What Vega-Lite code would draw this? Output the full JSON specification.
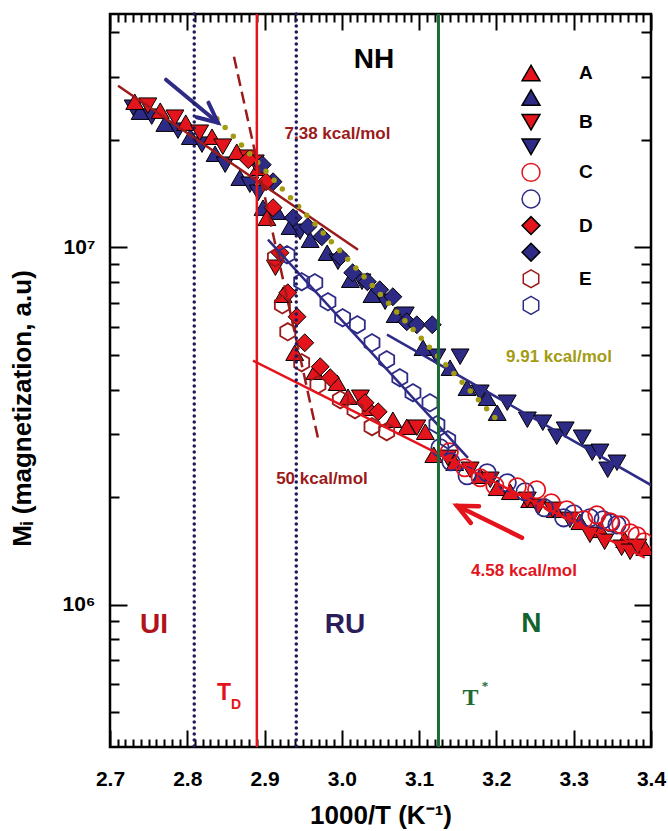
{
  "$schema": "https://vega.github.io/schema/vega-lite/v6.json",
  "width": 541,
  "height": 733,
  "autosize": {"type": "none"},
  "padding": {"left": 110, "top": 14, "right": 17, "bottom": 84},
  "background": "white",
  "config": {
    "view": {"stroke": "#000", "strokeWidth": 2.5},
    "axis": {"grid": false, "domain": false, "tickColor": "#000", "tickWidth": 2, "labelFont": "Liberation Sans", "labelFontWeight": "bold", "labelFontSize": 21, "labelColor": "#000", "titleFont": "Liberation Sans", "titleFontWeight": "bold", "titleFontSize": 26, "titleColor": "#000", "labelOverlap": false, "labelFlush": false},
    "legend": {"orient": "none", "legendX": 411, "legendY": 49, "title": null, "padding": 0, "labelFont": "Liberation Sans", "labelFontWeight": "bold", "labelFontSize": 19, "labelColor": "#000", "labelOffset": 38, "rowPadding": 2.6, "symbolSize": 320, "symbolStrokeWidth": 1.5},
    "text": {"font": "Liberation Sans", "fontWeight": "bold"}
  },
  "resolve": {"axis": {"x": "independent", "y": "independent"}},
  "datasets": {
    "pts": [
      {"s": "A-blue", "x": 2.739, "y": 2.398e7}, {"s": "A-blue", "x": 2.771, "y": 2.220e7}, {"s": "A-blue", "x": 2.804, "y": 2.041e7}, {"s": "A-blue", "x": 2.836, "y": 1.829e7}, {"s": "A-blue", "x": 2.868, "y": 1.567e7}, {"s": "A-blue", "x": 2.898, "y": 1.292e7}, {"s": "A-blue", "x": 2.916, "y": 1.259e7}, {"s": "A-blue", "x": 2.933, "y": 1.143e7}, {"s": "A-blue", "x": 2.959, "y": 1.051e7}, {"s": "A-blue", "x": 2.981, "y": 9.664e6}, {"s": "A-blue", "x": 3.011, "y": 8.121e6}, {"s": "A-blue", "x": 3.039, "y": 7.372e6}, {"s": "A-blue", "x": 3.069, "y": 6.481e6}, {"s": "A-blue", "x": 3.105, "y": 5.240e6}, {"s": "A-blue", "x": 3.140, "y": 4.607e6}, {"s": "A-blue", "x": 3.162, "y": 4.049e6}, {"s": "A-blue", "x": 3.188, "y": 3.796e6}, {"s": "A-blue", "x": 3.201, "y": 3.447e6},
      {"s": "B-blue", "x": 2.730, "y": 2.460e7}, {"s": "B-blue", "x": 2.754, "y": 2.322e7}, {"s": "B-blue", "x": 2.788, "y": 2.122e7}, {"s": "B-blue", "x": 2.819, "y": 1.939e7}, {"s": "B-blue", "x": 2.849, "y": 1.704e7}, {"s": "B-blue", "x": 2.881, "y": 1.498e7}, {"s": "B-blue", "x": 2.892, "y": 1.422e7}, {"s": "B-blue", "x": 2.946, "y": 1.106e7}, {"s": "B-blue", "x": 2.995, "y": 9.120e6}, {"s": "B-blue", "x": 3.026, "y": 8.017e6}, {"s": "B-blue", "x": 3.056, "y": 7.047e6}, {"s": "B-blue", "x": 3.082, "y": 6.481e6}, {"s": "B-blue", "x": 3.123, "y": 4.945e6}, {"s": "B-blue", "x": 3.153, "y": 4.945e6}, {"s": "B-blue", "x": 3.179, "y": 3.921e6}, {"s": "B-blue", "x": 3.214, "y": 3.676e6}, {"s": "B-blue", "x": 3.240, "y": 3.295e6}, {"s": "B-blue", "x": 3.260, "y": 3.232e6}, {"s": "B-blue", "x": 3.278, "y": 2.953e6}, {"s": "B-blue", "x": 3.289, "y": 3.090e6}, {"s": "B-blue", "x": 3.311, "y": 2.934e6}, {"s": "B-blue", "x": 3.324, "y": 2.663e6}, {"s": "B-blue", "x": 3.334, "y": 2.680e6}, {"s": "B-blue", "x": 3.344, "y": 2.387e6}, {"s": "B-blue", "x": 3.356, "y": 2.497e6},
      {"s": "A-red", "x": 2.732, "y": 2.557e7}, {"s": "A-red", "x": 2.765, "y": 2.414e7}, {"s": "A-red", "x": 2.798, "y": 2.234e7}, {"s": "A-red", "x": 2.832, "y": 2.041e7}, {"s": "A-red", "x": 2.864, "y": 1.853e7}, {"s": "A-red", "x": 2.892, "y": 1.671e7}, {"s": "A-red", "x": 2.903, "y": 1.211e7}, {"s": "A-red", "x": 2.924, "y": 7.372e6}, {"s": "A-red", "x": 2.939, "y": 5.074e6}, {"s": "A-red", "x": 2.965, "y": 4.490e6}, {"s": "A-red", "x": 2.994, "y": 4.182e6}, {"s": "A-red", "x": 3.008, "y": 3.821e6}, {"s": "A-red", "x": 3.036, "y": 3.559e6}, {"s": "A-red", "x": 3.066, "y": 3.295e6}, {"s": "A-red", "x": 3.084, "y": 3.150e6}, {"s": "A-red", "x": 3.108, "y": 3.050e6}, {"s": "A-red", "x": 3.119, "y": 2.629e6}, {"s": "A-red", "x": 3.146, "y": 2.497e6}, {"s": "A-red", "x": 3.179, "y": 2.297e6}, {"s": "A-red", "x": 3.201, "y": 2.125e6}, {"s": "A-red", "x": 3.218, "y": 2.071e6}, {"s": "A-red", "x": 3.243, "y": 1.967e6}, {"s": "A-red", "x": 3.276, "y": 1.844e6}, {"s": "A-red", "x": 3.308, "y": 1.707e6}, {"s": "A-red", "x": 3.334, "y": 1.621e6}, {"s": "A-red", "x": 3.366, "y": 1.520e6}, {"s": "A-red", "x": 3.392, "y": 1.444e6},
      {"s": "B-red", "x": 2.749, "y": 2.493e7}, {"s": "B-red", "x": 2.784, "y": 2.307e7}, {"s": "B-red", "x": 2.816, "y": 2.094e7}, {"s": "B-red", "x": 2.846, "y": 1.914e7}, {"s": "B-red", "x": 2.879, "y": 1.783e7}, {"s": "B-red", "x": 2.888, "y": 1.726e7}, {"s": "B-red", "x": 2.914, "y": 8.774e6}, {"s": "B-red", "x": 3.024, "y": 3.796e6}, {"s": "B-red", "x": 3.097, "y": 3.130e6}, {"s": "B-red", "x": 3.137, "y": 2.578e6}, {"s": "B-red", "x": 3.166, "y": 2.387e6}, {"s": "B-red", "x": 3.192, "y": 2.238e6}, {"s": "B-red", "x": 3.240, "y": 1.967e6}, {"s": "B-red", "x": 3.254, "y": 1.880e6}, {"s": "B-red", "x": 3.273, "y": 1.844e6}, {"s": "B-red", "x": 3.295, "y": 1.729e6}, {"s": "B-red", "x": 3.321, "y": 1.570e6}, {"s": "B-red", "x": 3.340, "y": 1.501e6}, {"s": "B-red", "x": 3.362, "y": 1.444e6}, {"s": "B-red", "x": 3.373, "y": 1.407e6}, {"s": "B-red", "x": 3.383, "y": 1.453e6},
      {"s": "D-blue", "x": 2.897, "y": 1.704e7}, {"s": "D-blue", "x": 2.911, "y": 1.527e7}, {"s": "D-blue", "x": 2.937, "y": 1.211e7}, {"s": "D-blue", "x": 2.956, "y": 1.143e7}, {"s": "D-blue", "x": 2.974, "y": 1.071e7}, {"s": "D-blue", "x": 2.998, "y": 9.418e6}, {"s": "D-blue", "x": 3.014, "y": 8.495e6}, {"s": "D-blue", "x": 3.033, "y": 8.017e6}, {"s": "D-blue", "x": 3.049, "y": 7.614e6}, {"s": "D-blue", "x": 3.066, "y": 7.278e6}, {"s": "D-blue", "x": 3.084, "y": 6.195e6}, {"s": "D-blue", "x": 3.097, "y": 6.077e6}, {"s": "D-blue", "x": 3.117, "y": 6.077e6},
      {"s": "D-red", "x": 2.879, "y": 1.760e7}, {"s": "D-red", "x": 2.902, "y": 1.527e7}, {"s": "D-red", "x": 2.911, "y": 1.292e7}, {"s": "D-red", "x": 2.920, "y": 9.664e6}, {"s": "D-red", "x": 2.930, "y": 7.468e6}, {"s": "D-red", "x": 2.942, "y": 6.398e6}, {"s": "D-red", "x": 2.952, "y": 5.411e6}, {"s": "D-red", "x": 2.972, "y": 4.637e6}, {"s": "D-red", "x": 2.985, "y": 4.319e6}, {"s": "D-red", "x": 3.030, "y": 3.676e6}, {"s": "D-red", "x": 3.047, "y": 3.469e6},
      {"s": "C-blue", "x": 3.127, "y": 2.750e6}, {"s": "C-blue", "x": 3.141, "y": 2.513e6}, {"s": "C-blue", "x": 3.162, "y": 2.297e6}, {"s": "C-blue", "x": 3.188, "y": 2.341e6}, {"s": "C-blue", "x": 3.214, "y": 2.195e6}, {"s": "C-blue", "x": 3.237, "y": 2.071e6}, {"s": "C-blue", "x": 3.262, "y": 1.868e6}, {"s": "C-blue", "x": 3.287, "y": 1.751e6}, {"s": "C-blue", "x": 3.300, "y": 1.797e6}, {"s": "C-blue", "x": 3.321, "y": 1.751e6}, {"s": "C-blue", "x": 3.338, "y": 1.729e6}, {"s": "C-blue", "x": 3.348, "y": 1.696e6}, {"s": "C-blue", "x": 3.356, "y": 1.674e6},
      {"s": "C-red", "x": 3.139, "y": 2.680e6}, {"s": "C-red", "x": 3.159, "y": 2.418e6}, {"s": "C-red", "x": 3.179, "y": 2.267e6}, {"s": "C-red", "x": 3.198, "y": 2.153e6}, {"s": "C-red", "x": 3.227, "y": 2.139e6}, {"s": "C-red", "x": 3.252, "y": 2.098e6}, {"s": "C-red", "x": 3.271, "y": 1.929e6}, {"s": "C-red", "x": 3.291, "y": 1.844e6}, {"s": "C-red", "x": 3.313, "y": 1.729e6}, {"s": "C-red", "x": 3.330, "y": 1.785e6}, {"s": "C-red", "x": 3.347, "y": 1.707e6}, {"s": "C-red", "x": 3.361, "y": 1.674e6}, {"s": "C-red", "x": 3.373, "y": 1.590e6}, {"s": "C-red", "x": 3.382, "y": 1.560e6}, {"s": "C-red", "x": 3.391, "y": 1.501e6},
      {"s": "E-blue", "x": 2.929, "y": 9.541e6}, {"s": "E-blue", "x": 2.948, "y": 8.017e6}, {"s": "E-blue", "x": 2.965, "y": 7.966e6}, {"s": "E-blue", "x": 2.982, "y": 7.047e6}, {"s": "E-blue", "x": 3.001, "y": 6.357e6}, {"s": "E-blue", "x": 3.020, "y": 6.077e6}, {"s": "E-blue", "x": 3.039, "y": 5.411e6}, {"s": "E-blue", "x": 3.058, "y": 4.850e6}, {"s": "E-blue", "x": 3.075, "y": 4.319e6}, {"s": "E-blue", "x": 3.092, "y": 3.921e6}, {"s": "E-blue", "x": 3.114, "y": 3.676e6}, {"s": "E-blue", "x": 3.123, "y": 3.191e6}, {"s": "E-blue", "x": 3.137, "y": 2.896e6},
      {"s": "E-red", "x": 2.914, "y": 9.358e6}, {"s": "E-red", "x": 2.923, "y": 6.912e6}, {"s": "E-red", "x": 2.930, "y": 5.808e6}, {"s": "E-red", "x": 2.948, "y": 4.758e6}, {"s": "E-red", "x": 2.969, "y": 4.128e6}, {"s": "E-red", "x": 2.998, "y": 3.748e6}, {"s": "E-red", "x": 3.017, "y": 3.514e6}, {"s": "E-red", "x": 3.039, "y": 3.150e6}, {"s": "E-red", "x": 3.058, "y": 3.050e6}
    ],
    "lines": [
      {"g": "f738", "i": 0, "x": 2.7104, "y": 2.835e7}, {"g": "f738", "i": 1, "x": 3.0209, "y": 9.85e6},
      {"g": "f50", "i": 0, "x": 2.8604, "y": 3.418e7}, {"g": "f50", "i": 1, "x": 2.9704, "y": 2.841e6},
      {"g": "f458", "i": 0, "x": 2.885, "y": 4.82e6}, {"g": "f458", "i": 1, "x": 3.392, "y": 1.354e6},
      {"g": "fnavy1", "i": 0, "x": 3.0584, "y": 5.70e6}, {"g": "fnavy1", "i": 1, "x": 3.4, "y": 2.163e6},
      {"g": "fnavy2", "i": 0, "x": 2.9044, "y": 1.051e7}, {"g": "fnavy2", "i": 1, "x": 3.1632, "y": 2.578e6},
      {"g": "f991", "i": 0, "x": 2.8384, "y": 2.293e7}, {"g": "f991", "i": 1, "x": 3.2007, "y": 3.294e6},
      {"g": "arrN", "i": 0, "x": 2.7725, "y": 2.947e7}, {"g": "arrN", "i": 1, "x": 2.8397, "y": 2.234e7},
      {"g": "arrNh", "i": 0, "x": 2.8274, "y": 2.541e7}, {"g": "arrNh", "i": 1, "x": 2.8397, "y": 2.234e7}, {"g": "arrNh", "i": 2, "x": 2.8122, "y": 2.314e7},
      {"g": "arrR", "i": 0, "x": 3.2331, "y": 1.540e6}, {"g": "arrR", "i": 1, "x": 3.149, "y": 1.893e6},
      {"g": "arrRh", "i": 0, "x": 3.1668, "y": 1.694e6}, {"g": "arrRh", "i": 1, "x": 3.149, "y": 1.893e6}, {"g": "arrRh", "i": 2, "x": 3.1774, "y": 1.888e6}
    ],
    "vlines": [
      {"g": "navy", "x": 2.809}, {"g": "navy", "x": 2.941}, {"g": "red", "x": 2.890}, {"g": "green", "x": 3.125}
    ],
    "labels": [
      {"k": "e_dr", "t": "7.38 kcal/mol", "x": 2.9943, "y": 2.080e7},
      {"k": "e_dr", "t": "50 kcal/mol", "x": 2.9743, "y": 2.253e6},
      {"k": "e_ol", "t": "9.91 kcal/mol", "x": 3.2809, "y": 4.945e6},
      {"k": "e_r", "t": "4.58 kcal/mol", "x": 3.2357, "y": 1.245e6},
      {"k": "r_black", "t": "NH", "x": 3.0416, "y": 3.341e7},
      {"k": "r_dr", "t": "UI", "x": 2.7569, "y": 8.79e5},
      {"k": "r_navy", "t": "RU", "x": 3.004, "y": 8.79e5},
      {"k": "r_green", "t": "N", "x": 3.2453, "y": 8.85e5},
      {"k": "td", "t": "T", "x": 2.8475, "y": 5.653e5},
      {"k": "tdsub", "t": "D", "x": 2.863, "y": 5.25e5},
      {"k": "tstar", "t": "T", "x": 3.1664, "y": 5.473e5},
      {"k": "star", "t": "*", "x": 3.1852, "y": 5.93e5}
    ]
  },
  "layer": [
    {
      "data": {"name": "pts"},
      "transform": [{"filter": {"field": "s", "oneOf": ["A-red", "A-blue", "B-red", "B-blue", "D-red", "D-blue"]}}],
      "mark": {"type": "point", "size": 320, "strokeWidth": 1, "opacity": 1, "clip": true},
      "encoding": {
        "x": {"field": "x", "type": "quantitative", "scale": {"domain": [2.7, 3.4], "nice": false, "zero": false}, "axis": null},
        "y": {"field": "y", "type": "quantitative", "scale": {"type": "log", "domain": [400000, 45000000], "nice": false}, "axis": null},
        "shape": {"field": "s", "type": "nominal", "sort": null,
          "scale": {"domain": ["A-red","A-blue","B-red","B-blue","C-red","C-blue","D-red","D-blue","E-red","E-blue"], "range": ["triangle-up","triangle-up","triangle-down","triangle-down","circle","circle","diamond","diamond","M0,-1L0.866,-0.5L0.866,0.5L0,1L-0.866,0.5L-0.866,-0.5Z","M0,-1L0.866,-0.5L0.866,0.5L0,1L-0.866,0.5L-0.866,-0.5Z"]},
          "legend": {"labelExpr": "datum.label == 'A-red' ? 'A' : datum.label == 'B-red' ? 'B' : datum.label == 'C-red' ? 'C' : datum.label == 'D-red' ? 'D' : datum.label == 'E-red' ? 'E' : ''"}},
        "fill": {"field": "s", "type": "nominal", "sort": null,
          "scale": {"domain": ["A-red","A-blue","B-red","B-blue","C-red","C-blue","D-red","D-blue","E-red","E-blue"], "range": ["#e3141b","#2e2b86","#e3141b","#2e2b86","transparent","transparent","#e3141b","#2e2b86","transparent","transparent"]},
          "legend": {"labelExpr": "datum.label == 'A-red' ? 'A' : datum.label == 'B-red' ? 'B' : datum.label == 'C-red' ? 'C' : datum.label == 'D-red' ? 'D' : datum.label == 'E-red' ? 'E' : ''"}},
        "stroke": {"field": "s", "type": "nominal", "sort": null,
          "scale": {"domain": ["A-red","A-blue","B-red","B-blue","C-red","C-blue","D-red","D-blue","E-red","E-blue"], "range": ["#000","#000","#000","#000","#e3141b","#2e2b86","#000","#000","#9c1a1a","#2e2b86"]},
          "legend": {"labelExpr": "datum.label == 'A-red' ? 'A' : datum.label == 'B-red' ? 'B' : datum.label == 'C-red' ? 'C' : datum.label == 'D-red' ? 'D' : datum.label == 'E-red' ? 'E' : ''"}}
      }
    },
    {
      "data": {"name": "pts"},
      "transform": [{"filter": {"field": "s", "oneOf": ["C-red", "C-blue", "E-red", "E-blue"]}}],
      "mark": {"type": "point", "size": 300, "strokeWidth": 1.8, "opacity": 1, "clip": true},
      "encoding": {
        "x": {"field": "x", "type": "quantitative", "scale": {"domain": [2.7, 3.4], "nice": false, "zero": false}, "axis": null},
        "y": {"field": "y", "type": "quantitative", "scale": {"type": "log", "domain": [400000, 45000000], "nice": false}, "axis": null},
        "shape": {"field": "s", "type": "nominal", "sort": null,
          "scale": {"domain": ["A-red","A-blue","B-red","B-blue","C-red","C-blue","D-red","D-blue","E-red","E-blue"], "range": ["triangle-up","triangle-up","triangle-down","triangle-down","circle","circle","diamond","diamond","M0,-1L0.866,-0.5L0.866,0.5L0,1L-0.866,0.5L-0.866,-0.5Z","M0,-1L0.866,-0.5L0.866,0.5L0,1L-0.866,0.5L-0.866,-0.5Z"]},
          "legend": {"labelExpr": "datum.label == 'A-red' ? 'A' : datum.label == 'B-red' ? 'B' : datum.label == 'C-red' ? 'C' : datum.label == 'D-red' ? 'D' : datum.label == 'E-red' ? 'E' : ''"}},
        "fill": {"field": "s", "type": "nominal", "sort": null,
          "scale": {"domain": ["A-red","A-blue","B-red","B-blue","C-red","C-blue","D-red","D-blue","E-red","E-blue"], "range": ["#e3141b","#2e2b86","#e3141b","#2e2b86","transparent","transparent","#e3141b","#2e2b86","transparent","transparent"]},
          "legend": {"labelExpr": "datum.label == 'A-red' ? 'A' : datum.label == 'B-red' ? 'B' : datum.label == 'C-red' ? 'C' : datum.label == 'D-red' ? 'D' : datum.label == 'E-red' ? 'E' : ''"}},
        "stroke": {"field": "s", "type": "nominal", "sort": null,
          "scale": {"domain": ["A-red","A-blue","B-red","B-blue","C-red","C-blue","D-red","D-blue","E-red","E-blue"], "range": ["#000","#000","#000","#000","#e3141b","#2e2b86","#000","#000","#9c1a1a","#2e2b86"]},
          "legend": {"labelExpr": "datum.label == 'A-red' ? 'A' : datum.label == 'B-red' ? 'B' : datum.label == 'C-red' ? 'C' : datum.label == 'D-red' ? 'D' : datum.label == 'E-red' ? 'E' : ''"}}
      }
    },
    {
      "data": {"name": "lines"},
      "transform": [{"filter": "datum.g == 'f738'"}],
      "mark": {"type": "line", "color": "#9c1a1a", "strokeWidth": 2.5, "clip": true},
      "encoding": {
        "x": {"field": "x", "type": "quantitative", "scale": {"domain": [2.7, 3.4], "nice": false, "zero": false},
          "axis": {"orient": "top", "values": [2.7, 2.8, 2.9, 3.0, 3.1, 3.2, 3.3, 3.4], "labels": false, "tickSize": -16, "title": null}},
        "y": {"field": "y", "type": "quantitative", "scale": {"type": "log", "domain": [400000, 45000000], "nice": false},
          "axis": {"orient": "left", "values": [1000000, 10000000], "labelExpr": "datum.value < 5000000 ? '10⁶' : '10⁷'", "ticks": false, "labelPadding": 15, "title": "Mᵢ (magnetization, a.u)", "titlePadding": 26, "titleY": 394}},
        "order": {"field": "i", "type": "quantitative"}
      }
    },
    {
      "data": {"name": "lines"},
      "transform": [{"filter": "datum.g == 'f50'"}],
      "mark": {"type": "line", "color": "#9c1a1a", "strokeWidth": 2.5, "strokeDash": [12, 6], "clip": true},
      "encoding": {
        "x": {"field": "x", "type": "quantitative", "scale": {"domain": [2.7, 3.4], "nice": false, "zero": false},
          "axis": {"orient": "top", "values": [2.71,2.72,2.73,2.74,2.75,2.76,2.77,2.78,2.79,2.81,2.82,2.83,2.84,2.85,2.86,2.87,2.88,2.89,2.91,2.92,2.93,2.94,2.95,2.96,2.97,2.98,2.99,3.01,3.02,3.03,3.04,3.05,3.06,3.07,3.08,3.09,3.11,3.12,3.13,3.14,3.15,3.16,3.17,3.18,3.19,3.21,3.22,3.23,3.24,3.25,3.26,3.27,3.28,3.29,3.31,3.32,3.33,3.34,3.35,3.36,3.37,3.38,3.39], "labels": false, "tickSize": -8, "title": null}},
        "y": {"field": "y", "type": "quantitative", "scale": {"type": "log", "domain": [400000, 45000000], "nice": false},
          "axis": {"orient": "left", "values": [1000000, 10000000], "labels": false, "tickSize": -17, "title": null}},
        "order": {"field": "i", "type": "quantitative"}
      }
    },
    {
      "data": {"name": "lines"},
      "transform": [{"filter": "datum.g == 'f458'"}],
      "mark": {"type": "line", "color": "#e3141b", "strokeWidth": 2.5, "clip": true},
      "encoding": {
        "x": {"field": "x", "type": "quantitative", "scale": {"domain": [2.7, 3.4], "nice": false, "zero": false}, "axis": null},
        "y": {"field": "y", "type": "quantitative", "scale": {"type": "log", "domain": [400000, 45000000], "nice": false},
          "axis": {"orient": "left", "values": [500000,600000,700000,800000,900000,2000000,3000000,4000000,5000000,6000000,7000000,8000000,9000000,20000000,30000000,40000000], "labels": false, "tickSize": -9, "title": null}},
        "order": {"field": "i", "type": "quantitative"}
      }
    },
    {
      "data": {"name": "lines"},
      "transform": [{"filter": "datum.g == 'fnavy1' || datum.g == 'fnavy2'"}],
      "mark": {"type": "line", "color": "#2e2b86", "strokeWidth": 2.5, "clip": true},
      "encoding": {
        "x": {"field": "x", "type": "quantitative", "scale": {"domain": [2.7, 3.4], "nice": false, "zero": false}, "axis": null},
        "y": {"field": "y", "type": "quantitative", "scale": {"type": "log", "domain": [400000, 45000000], "nice": false},
          "axis": {"orient": "right", "values": [1000000, 10000000], "labels": false, "tickSize": -17, "title": null}},
        "detail": {"field": "g", "type": "nominal"},
        "order": {"field": "i", "type": "quantitative"}
      }
    },
    {
      "data": {"name": "lines"},
      "transform": [{"filter": "datum.g == 'f991'"}],
      "mark": {"type": "line", "color": "#a39b12", "strokeWidth": 5.5, "strokeDash": [0, 12], "strokeCap": "round", "clip": true},
      "encoding": {
        "x": {"field": "x", "type": "quantitative", "scale": {"domain": [2.7, 3.4], "nice": false, "zero": false}, "axis": null},
        "y": {"field": "y", "type": "quantitative", "scale": {"type": "log", "domain": [400000, 45000000], "nice": false},
          "axis": {"orient": "right", "values": [500000,600000,700000,800000,900000,2000000,3000000,4000000,5000000,6000000,7000000,8000000,9000000,20000000,30000000,40000000], "labels": false, "tickSize": -10, "title": null}},
        "order": {"field": "i", "type": "quantitative"}
      }
    },
    {
      "data": {"name": "lines"},
      "transform": [{"filter": "datum.g == 'arrN' || datum.g == 'arrNh'"}],
      "mark": {"type": "line", "color": "#2e2b86", "strokeWidth": 4, "strokeCap": "round", "strokeJoin": "miter", "clip": true},
      "encoding": {
        "x": {"field": "x", "type": "quantitative", "scale": {"domain": [2.7, 3.4], "nice": false, "zero": false}, "axis": null},
        "y": {"field": "y", "type": "quantitative", "scale": {"type": "log", "domain": [400000, 45000000], "nice": false}, "axis": null},
        "detail": {"field": "g", "type": "nominal"},
        "order": {"field": "i", "type": "quantitative"}
      }
    },
    {
      "data": {"name": "lines"},
      "transform": [{"filter": "datum.g == 'arrR' || datum.g == 'arrRh'"}],
      "mark": {"type": "line", "color": "#e3141b", "strokeWidth": 4.5, "strokeCap": "round", "strokeJoin": "miter", "clip": true},
      "encoding": {
        "x": {"field": "x", "type": "quantitative", "scale": {"domain": [2.7, 3.4], "nice": false, "zero": false}, "axis": null},
        "y": {"field": "y", "type": "quantitative", "scale": {"type": "log", "domain": [400000, 45000000], "nice": false}, "axis": null},
        "detail": {"field": "g", "type": "nominal"},
        "order": {"field": "i", "type": "quantitative"}
      }
    },
    {
      "data": {"name": "vlines"},
      "transform": [{"filter": "datum.g == 'navy'"}],
      "mark": {"type": "rule", "color": "#1e1a5a", "strokeWidth": 3.5, "strokeDash": [0, 6], "strokeCap": "round"},
      "encoding": {
        "x": {"field": "x", "type": "quantitative", "scale": {"domain": [2.7, 3.4], "nice": false, "zero": false},
          "axis": {"orient": "bottom", "values": [2.7, 2.8, 2.9, 3.0, 3.1, 3.2, 3.3, 3.4], "format": ".1f", "ticks": false, "labelPadding": 21, "title": "1000/T (K⁻¹)", "titlePadding": 13}}
      }
    },
    {
      "data": {"name": "vlines"},
      "transform": [{"filter": "datum.g == 'red'"}],
      "mark": {"type": "rule", "color": "#e3141b", "strokeWidth": 2.5},
      "encoding": {
        "x": {"field": "x", "type": "quantitative", "scale": {"domain": [2.7, 3.4], "nice": false, "zero": false},
          "axis": {"orient": "bottom", "values": [2.7, 2.8, 2.9, 3.0, 3.1, 3.2, 3.3, 3.4], "labels": false, "tickSize": -17, "title": null}}
      }
    },
    {
      "data": {"name": "vlines"},
      "transform": [{"filter": "datum.g == 'green'"}],
      "mark": {"type": "rule", "color": "#1b6b34", "strokeWidth": 3},
      "encoding": {
        "x": {"field": "x", "type": "quantitative", "scale": {"domain": [2.7, 3.4], "nice": false, "zero": false},
          "axis": {"orient": "bottom", "values": [2.71,2.72,2.73,2.74,2.75,2.76,2.77,2.78,2.79,2.81,2.82,2.83,2.84,2.85,2.86,2.87,2.88,2.89,2.91,2.92,2.93,2.94,2.95,2.96,2.97,2.98,2.99,3.01,3.02,3.03,3.04,3.05,3.06,3.07,3.08,3.09,3.11,3.12,3.13,3.14,3.15,3.16,3.17,3.18,3.19,3.21,3.22,3.23,3.24,3.25,3.26,3.27,3.28,3.29,3.31,3.32,3.33,3.34,3.35,3.36,3.37,3.38,3.39], "labels": false, "tickSize": -8, "title": null}}
      }
    },
    {
      "data": {"name": "labels"},
      "transform": [{"filter": "datum.k == 'e_dr'"}],
      "mark": {"type": "text", "fontSize": 17, "fontWeight": "bold", "font": "Liberation Sans", "align": "center", "baseline": "middle", "color": "#9c1a1a"},
      "encoding": {
        "x": {"field": "x", "type": "quantitative", "scale": {"domain": [2.7, 3.4], "nice": false, "zero": false}, "axis": null},
        "y": {"field": "y", "type": "quantitative", "scale": {"type": "log", "domain": [400000, 45000000], "nice": false}, "axis": null},
        "text": {"field": "t"}
      }
    },
    {
      "data": {"name": "labels"},
      "transform": [{"filter": "datum.k == 'e_ol'"}],
      "mark": {"type": "text", "fontSize": 17, "fontWeight": "bold", "font": "Liberation Sans", "align": "center", "baseline": "middle", "color": "#a39b12"},
      "encoding": {
        "x": {"field": "x", "type": "quantitative", "scale": {"domain": [2.7, 3.4], "nice": false, "zero": false}, "axis": null},
        "y": {"field": "y", "type": "quantitative", "scale": {"type": "log", "domain": [400000, 45000000], "nice": false}, "axis": null},
        "text": {"field": "t"}
      }
    },
    {
      "data": {"name": "labels"},
      "transform": [{"filter": "datum.k == 'e_r'"}],
      "mark": {"type": "text", "fontSize": 17, "fontWeight": "bold", "font": "Liberation Sans", "align": "center", "baseline": "middle", "color": "#e3141b"},
      "encoding": {
        "x": {"field": "x", "type": "quantitative", "scale": {"domain": [2.7, 3.4], "nice": false, "zero": false}, "axis": null},
        "y": {"field": "y", "type": "quantitative", "scale": {"type": "log", "domain": [400000, 45000000], "nice": false}, "axis": null},
        "text": {"field": "t"}
      }
    },
    {
      "data": {"name": "labels"},
      "transform": [{"filter": "datum.k == 'r_black'"}],
      "mark": {"type": "text", "fontSize": 28, "fontWeight": "bold", "font": "Liberation Sans", "align": "center", "baseline": "middle", "color": "#000000"},
      "encoding": {
        "x": {"field": "x", "type": "quantitative", "scale": {"domain": [2.7, 3.4], "nice": false, "zero": false}, "axis": null},
        "y": {"field": "y", "type": "quantitative", "scale": {"type": "log", "domain": [400000, 45000000], "nice": false}, "axis": null},
        "text": {"field": "t"}
      }
    },
    {
      "data": {"name": "labels"},
      "transform": [{"filter": "datum.k == 'r_dr'"}],
      "mark": {"type": "text", "fontSize": 28, "fontWeight": "bold", "font": "Liberation Sans", "align": "center", "baseline": "middle", "color": "#b0141a"},
      "encoding": {
        "x": {"field": "x", "type": "quantitative", "scale": {"domain": [2.7, 3.4], "nice": false, "zero": false}, "axis": null},
        "y": {"field": "y", "type": "quantitative", "scale": {"type": "log", "domain": [400000, 45000000], "nice": false}, "axis": null},
        "text": {"field": "t"}
      }
    },
    {
      "data": {"name": "labels"},
      "transform": [{"filter": "datum.k == 'r_navy'"}],
      "mark": {"type": "text", "fontSize": 28, "fontWeight": "bold", "font": "Liberation Sans", "align": "center", "baseline": "middle", "color": "#2b1d5c"},
      "encoding": {
        "x": {"field": "x", "type": "quantitative", "scale": {"domain": [2.7, 3.4], "nice": false, "zero": false}, "axis": null},
        "y": {"field": "y", "type": "quantitative", "scale": {"type": "log", "domain": [400000, 45000000], "nice": false}, "axis": null},
        "text": {"field": "t"}
      }
    },
    {
      "data": {"name": "labels"},
      "transform": [{"filter": "datum.k == 'r_green'"}],
      "mark": {"type": "text", "fontSize": 28, "fontWeight": "bold", "font": "Liberation Sans", "align": "center", "baseline": "middle", "color": "#12632e"},
      "encoding": {
        "x": {"field": "x", "type": "quantitative", "scale": {"domain": [2.7, 3.4], "nice": false, "zero": false}, "axis": null},
        "y": {"field": "y", "type": "quantitative", "scale": {"type": "log", "domain": [400000, 45000000], "nice": false}, "axis": null},
        "text": {"field": "t"}
      }
    },
    {
      "data": {"name": "labels"},
      "transform": [{"filter": "datum.k == 'td'"}],
      "mark": {"type": "text", "fontSize": 23, "fontWeight": "bold", "font": "Liberation Sans", "align": "center", "baseline": "middle", "color": "#e3141b"},
      "encoding": {
        "x": {"field": "x", "type": "quantitative", "scale": {"domain": [2.7, 3.4], "nice": false, "zero": false}, "axis": null},
        "y": {"field": "y", "type": "quantitative", "scale": {"type": "log", "domain": [400000, 45000000], "nice": false}, "axis": null},
        "text": {"field": "t"}
      }
    },
    {
      "data": {"name": "labels"},
      "transform": [{"filter": "datum.k == 'tdsub'"}],
      "mark": {"type": "text", "fontSize": 14, "fontWeight": "bold", "font": "Liberation Sans", "align": "center", "baseline": "middle", "color": "#e3141b"},
      "encoding": {
        "x": {"field": "x", "type": "quantitative", "scale": {"domain": [2.7, 3.4], "nice": false, "zero": false}, "axis": null},
        "y": {"field": "y", "type": "quantitative", "scale": {"type": "log", "domain": [400000, 45000000], "nice": false}, "axis": null},
        "text": {"field": "t"}
      }
    },
    {
      "data": {"name": "labels"},
      "transform": [{"filter": "datum.k == 'tstar'"}],
      "mark": {"type": "text", "fontSize": 24, "fontWeight": "bold", "font": "Liberation Serif", "align": "center", "baseline": "middle", "color": "#1b6b34"},
      "encoding": {
        "x": {"field": "x", "type": "quantitative", "scale": {"domain": [2.7, 3.4], "nice": false, "zero": false}, "axis": null},
        "y": {"field": "y", "type": "quantitative", "scale": {"type": "log", "domain": [400000, 45000000], "nice": false}, "axis": null},
        "text": {"field": "t"}
      }
    },
    {
      "data": {"name": "labels"},
      "transform": [{"filter": "datum.k == 'star'"}],
      "mark": {"type": "text", "fontSize": 13, "fontWeight": "bold", "font": "Liberation Serif", "align": "center", "baseline": "middle", "color": "#1b6b34"},
      "encoding": {
        "x": {"field": "x", "type": "quantitative", "scale": {"domain": [2.7, 3.4], "nice": false, "zero": false}, "axis": null},
        "y": {"field": "y", "type": "quantitative", "scale": {"type": "log", "domain": [400000, 45000000], "nice": false}, "axis": null},
        "text": {"field": "t"}
      }
    }
  ]
}
